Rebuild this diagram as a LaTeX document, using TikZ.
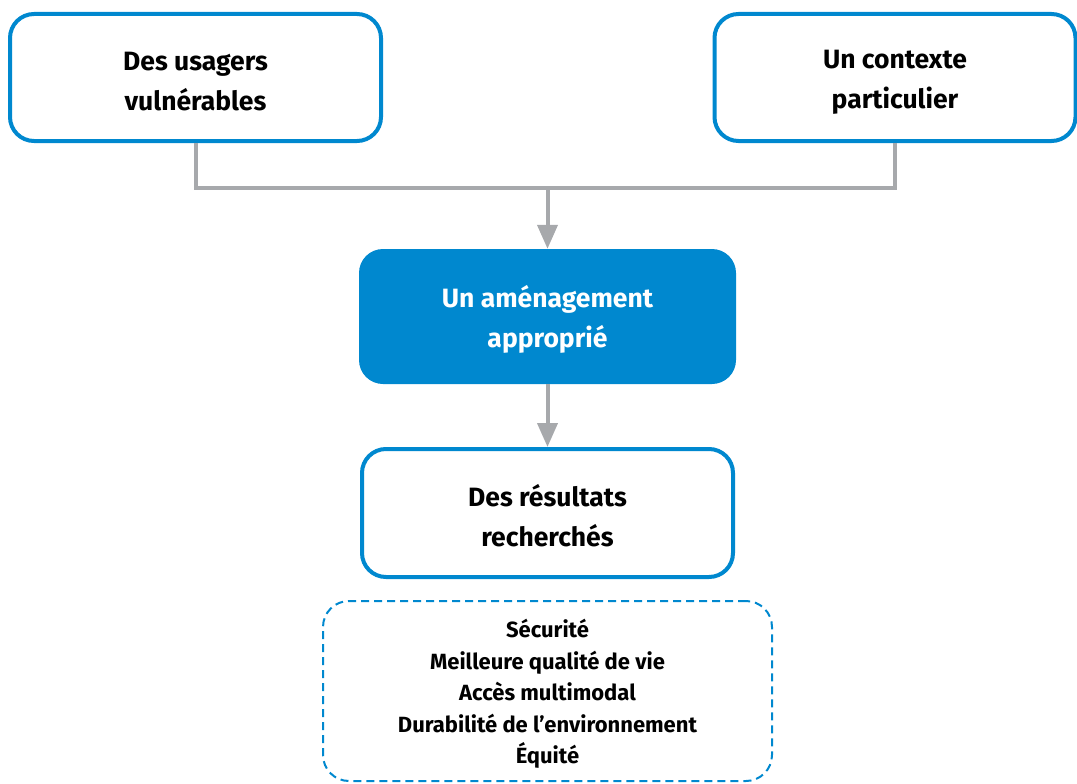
\documentclass[tikz,border=0pt]{standalone}
\usepackage{fontspec}
\setmainfont{Fira Sans}
\usetikzlibrary{arrows.meta}
\definecolor{bleu}{HTML}{0088CF}
\definecolor{gris}{HTML}{A7A9AC}
\newcommand{\upstrut}{\rule{0pt}{27pt}}
\begin{document}
\begin{tikzpicture}[x=1pt,y=-1pt,
  box/.style={draw=bleu,line width=4pt,rounded corners=24pt,fill=white,align=center,
    font=\fontsize{26.5}{40}\selectfont\bfseries,inner sep=0pt},
  filled/.style={fill=bleu,rounded corners=24pt,align=center,text=white,
    font=\fontsize{26.5}{40}\selectfont\bfseries,inner sep=0pt},
  conn/.style={draw=gris,line width=4pt},
  arr/.style={conn,-{Triangle[width=20pt,length=24pt]}},
  listbox/.style={draw=bleu,dashed,dash pattern=on 8pt off 5pt,line width=2pt,rounded corners=26pt,
    align=center,font=\fontsize{22}{31.5}\selectfont\bfseries,inner sep=0pt}]
\useasboundingbox (0,0) rectangle (1077,784);
\node[box,minimum width=371pt,minimum height=127pt] (A) at (195.5,77.5) {\upstrut Des usagers\\vulnérables};
\node[box,minimum width=361pt,minimum height=127pt] (B) at (895,77.5) {\upstrut Un contexte\\particulier};
\node[filled,minimum width=377pt,minimum height=135pt] (C) at (547.5,316.5) {\upstrut Un aménagement\\approprié};
\node[box,minimum width=371pt,minimum height=128pt] (D) at (547.5,513) {\upstrut Des résultats\\recherchés};
\node[listbox,minimum width=449pt,minimum height=180pt] (E) at (547.5,691) {\rule{0pt}{24pt}Sécurité\\Meilleure qualité de vie\\Accès multimodal\\Durabilité de l’environnement\\Équité};
\coordinate (j) at (547.5,188);
\draw[conn] (A.south) |- (j) -| (B.south);
\draw[arr] (j) -- (C.north);
\draw[arr] (C.south) -- (D.north);
\end{tikzpicture}
\end{document}
